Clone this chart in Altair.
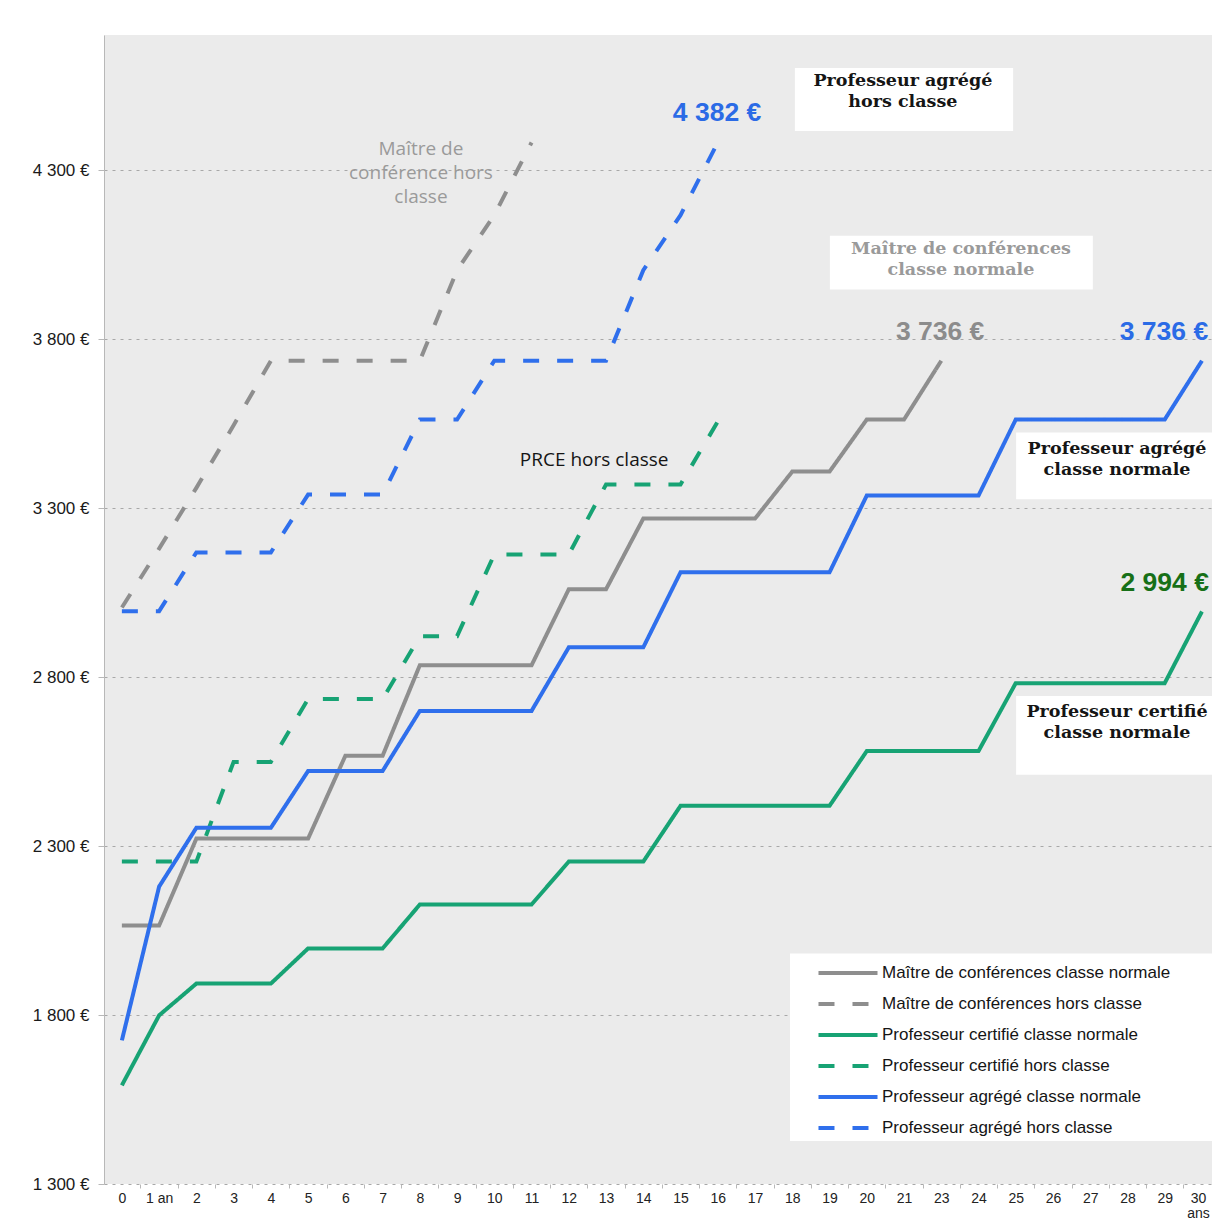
import json
import altair as alt
import pandas as pd

# ---------------- data ----------------
x_labels = ["0", "1 an"] + [str(i) for i in range(2, 22)] + [str(i) for i in range(23, 31)]

series_names = [
    "Maître de conférences classe normale",
    "Maître de conférences hors classe",
    "Professeur certifié classe normale",
    "Professeur certifié hors classe",
    "Professeur agrégé classe normale",
    "Professeur agrégé hors classe",
]
series_colors = ["#8e8e8e", "#8e8e8e", "#17a374", "#17a374", "#2f6fec", "#2f6fec"]
series_dashes = [[1, 0], [16, 18], [1, 0], [16, 18], [1, 0], [16, 18]]

mcf_cn = [2065, 2065, 2322, 2322, 2322, 2322, 2567, 2567, 2835, 2835, 2835, 2835,
          3060, 3060, 3269, 3269, 3269, 3269, 3408, 3408, 3562, 3562, 3736]
mcf_hc = [3006, 3180, 3360, 3545, 3736, 3736, 3736, 3736, 3736, 4004, 4167, 4382]
cert_cn = [1592, 1799, 1893, 1893, 1893, 1997, 1997, 1997, 2127, 2127, 2127, 2127,
           2254, 2254, 2254, 2419, 2419, 2419, 2419, 2419, 2581, 2581, 2581, 2581,
           2782, 2782, 2782, 2782, 2782, 2994]
cert_hc = [2254, 2254, 2254, 2549, 2549, 2735, 2735, 2735, 2921, 2921, 3163, 3163,
           3163, 3370, 3370, 3370, 3556]
agr_cn = [1725, 2180, 2354, 2354, 2354, 2522, 2522, 2522, 2700, 2700, 2700, 2700,
          2888, 2888, 2888, 3110, 3110, 3110, 3110, 3110, 3337, 3337, 3337, 3337,
          3562, 3562, 3562, 3562, 3562, 3736]
agr_hc = [2995, 2995, 3169, 3169, 3169, 3340, 3340, 3340, 3562, 3562, 3736, 3736,
          3736, 3736, 4004, 4167, 4382]

y_ticks = [1300, 1800, 2300, 2800, 3300, 3800, 4300]

# annotation boxes (white) : x0, x1, y0, y1 in data units
box_x0 = [18.07, 19.01, 24.01, 24.01, 17.94]
box_x1 = [23.93, 26.07, 29.27, 29.27, 29.27]
box_y0 = [4416, 3947, 3326, 2511, 1427]
box_y1 = [4602, 4106, 3524, 2744, 1982]

# serif bold labels inside boxes (y = first line)
serif_text = ["Professeur agrégé\nhors classe", "Maître de conférences\nclasse normale",
              "Professeur agrégé\nclasse normale", "Professeur certifié\nclasse normale"]
serif_x = [20.97, 22.53, 26.72, 26.72]
serif_y = [4564, 4068, 3474, 2697]
serif_color = ["#151515", "#9a9a9a", "#151515", "#151515"]

# plain sans labels (y = first line)
sans_text = ["Maître de\nconférence hors\nclasse", "PRCE hors classe"]
sans_x = [8.03, 12.68]
sans_y = [4363, 3442]
sans_color = ["#9a9a9a", "#151515"]

# bold value labels
value_text = ["4 382 €", "3 736 €", "3 736 €", "2 994 €"]
value_x = [15.98, 21.97, 27.98, 28.0]
value_y = [4470, 3820, 3820, 3078]
value_color = ["#2b6be6", "#8c8c8c", "#2b6be6", "#177017"]

# ---------------- tables ----------------
all_series = [mcf_cn, mcf_hc, cert_cn, cert_hc, agr_cn, agr_hc]
rows = []
for name, vals in zip(series_names, all_series):
    for i, v in enumerate(vals):
        rows.append({"series": name, "idx": i, "value": v})
lines_df = pd.DataFrame(rows)

boxes_df = pd.DataFrame({"x0": box_x0, "x1": box_x1, "y0": box_y0, "y1": box_y1})
serif_df = pd.DataFrame({"text": serif_text, "x": serif_x, "y": serif_y, "color": serif_color})
sans_df = pd.DataFrame({"text": sans_text, "x": sans_x, "y": sans_y, "color": sans_color})
value_df = pd.DataFrame({"text": value_text, "x": value_x, "y": value_y, "color": value_color})

# ---------------- layout ----------------
W = 1108
H = 1149
x_lo, x_hi = -0.48, 29.27
half_band = W / (x_hi - x_lo) / 2
last = len(x_labels) - 1

x_scale = alt.Scale(domain=[x_lo, x_hi], nice=False, zero=False)
y_scale = alt.Scale(domain=[1300, 4700], nice=False, zero=False)

labels_js = json.dumps(x_labels, ensure_ascii=False)
x_axis = alt.Axis(
    values=list(range(len(x_labels))),
    labelExpr=f"datum.value == {last} ? ['30', 'ans'] : {labels_js}[datum.value]",
    tickOffset=half_band,
    labelOffset={"condition": {"test": f"datum.value == {last}", "value": -half_band - 4},
                 "value": -half_band},
    grid=False,
    domain=False,
    tickSize=4,
    tickColor="#b8b8b8",
    labelPadding=3,
    labelFontSize=14,
    labelFont="Liberation Sans",
    labelColor="#222222",
    labelLineHeight=15,
    labelFlush=False,
    labelOverlap=False,
    labelBound=False,
    labelSeparation=0,
    title=None,
)
y_axis = alt.Axis(
    values=y_ticks,
    labelExpr="replace(format(datum.value, ','), ',', ' ') + ' €'",
    grid=True,
    gridDash=[3, 5],
    gridColor="#a8a8a8",
    gridWidth=1,
    domainColor="#b8b8b8",
    tickColor="#b8b8b8",
    tickSize=6,
    labelPadding=9,
    labelFontSize=17,
    labelFont="Liberation Sans",
    labelColor="#1a1a1a",
    title=None,
)

legend = alt.Legend(
    orient="none",
    legendX=732,
    legendY=926,
    title=None,
    symbolType="M-3,0L3,0",
    symbolSize=387,
    symbolStrokeWidth=4,
    labelFontSize=17,
    labelFont="Liberation Sans",
    labelColor="#151515",
    labelOffset=22,
    labelLimit=500,
    rowPadding=11,
    padding=0,
)

lines = alt.Chart(lines_df).mark_line(strokeWidth=4, strokeCap="butt", strokeJoin="miter").encode(
    x=alt.X("idx:Q", scale=x_scale, axis=x_axis),
    y=alt.Y("value:Q", scale=y_scale, axis=y_axis),
    color=alt.Color("series:N", scale=alt.Scale(domain=series_names, range=series_colors), legend=legend),
    strokeDash=alt.StrokeDash("series:N", scale=alt.Scale(domain=series_names, range=series_dashes), legend=legend),
    order=alt.Order("idx:Q"),
)

boxes = alt.Chart(boxes_df).mark_rect(fill="white").encode(
    x=alt.X("x0:Q", scale=x_scale, axis=x_axis),
    x2="x1:Q",
    y=alt.Y("y0:Q", scale=y_scale, axis=y_axis),
    y2="y1:Q",
)

serif = alt.Chart(serif_df).mark_text(
    font="DejaVu Serif", fontWeight="bold", fontSize=17.5, lineBreak="\n", lineHeight=21,
    align="center", baseline="middle",
).encode(
    x=alt.X("x:Q", scale=x_scale, axis=x_axis),
    y=alt.Y("y:Q", scale=y_scale, axis=y_axis),
    text="text:N",
    color=alt.Color("color:N", scale=None),
)

sans = alt.Chart(sans_df).mark_text(
    font="Open Sans", fontSize=19, lineBreak="\n", lineHeight=24,
    align="center", baseline="middle",
).encode(
    x=alt.X("x:Q", scale=x_scale, axis=x_axis),
    y=alt.Y("y:Q", scale=y_scale, axis=y_axis),
    text="text:N",
    color=alt.Color("color:N", scale=None),
)

values = alt.Chart(value_df).mark_text(
    font="Liberation Sans", fontWeight="bold", fontSize=26.5,
    align="center", baseline="middle",
).encode(
    x=alt.X("x:Q", scale=x_scale, axis=x_axis),
    y=alt.Y("y:Q", scale=y_scale, axis=y_axis),
    text="text:N",
    color=alt.Color("color:N", scale=None),
)

chart = alt.layer(lines, boxes, serif, sans, values).properties(
    width=W,
    height=H,
    autosize=alt.AutoSizeParams(type="none"),
    padding={"left": 96, "top": 27, "right": 0, "bottom": 36},
    background="white",
).configure_view(
    fill="#ebebeb",
    stroke=None,
)

chart.save("out.html", embed_options={"renderer": "svg", "actions": False})
